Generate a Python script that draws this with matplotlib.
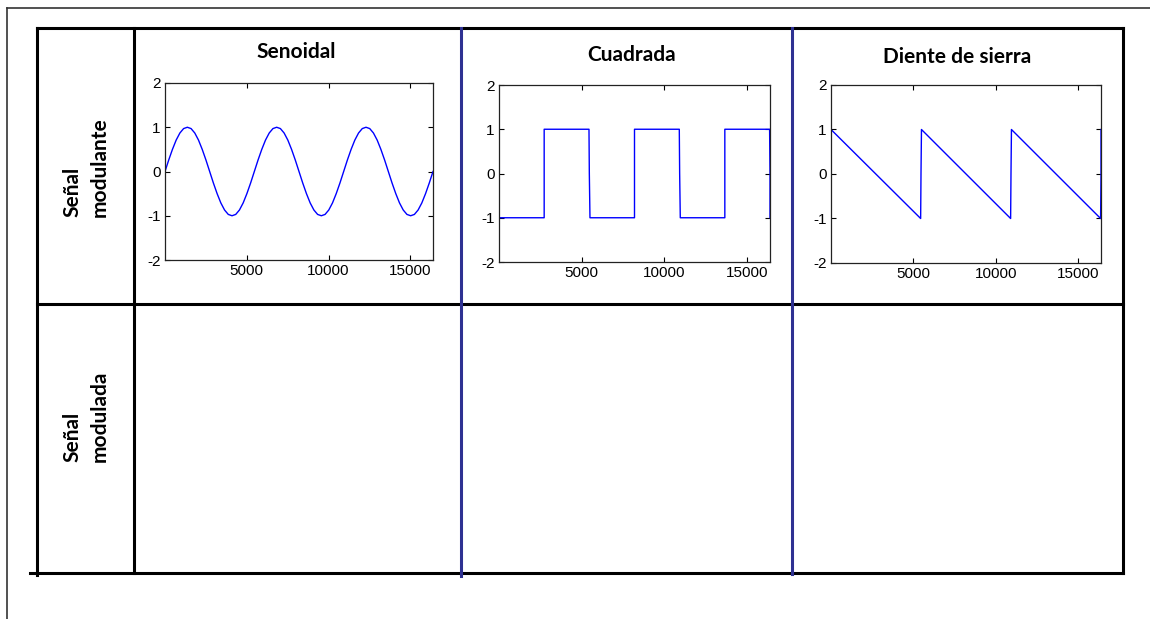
import numpy as np
import matplotlib.pyplot as plt

plt.rcParams['axes.unicode_minus'] = False

# datos de las señales (3 ciclos en 16384 muestras)
n_muestras = 16384
titulos = ["Senoidal", "Cuadrada", "Diente de sierra"]
filas = ["Señal\nmodulante", "Señal\nmodulada"]

# un ciclo de la senoidal, leido cada 15 grados
ciclo_seno = [0, 0.26, 0.5, 0.71, 0.87, 0.97, 1, 0.97, 0.87, 0.71, 0.5, 0.26,
              0, -0.26, -0.5, -0.71, -0.87, -0.97, -1, -0.97, -0.87, -0.71, -0.5, -0.26]
n_ciclos = 3

cuad_x = [0, 2731, 2731, 5440, 5461, 5500, 8192, 8192, 10900, 10922, 10960,
          13653, 13653, 16360, 16384, 16384]
cuad_y = [-1, -1, 1, 1, 0, -1, -1, 1, 1, 0, -1, -1, 1, 1, 0, -1]

sierra_x = [0, 5440, 5461, 5490, 10900, 10922, 10950, 16360, 16384, 16384]
sierra_y = [1, -1, 0, 1, -1, 0, 1, -1, 0, 1]

xticks = [5000, 10000, 15000]
yticks = [-2, -1, 0, 1, 2]

W, H = 1150, 619
fig = plt.figure(figsize=(W / 100, H / 100), dpi=100)

# capa de fondo en pixeles para la tabla
bg = fig.add_axes([0, 0, 1, 1])
bg.set_xlim(0, W)
bg.set_ylim(H, 0)
bg.axis('off')

lw = 2.2
negro = 'black'
azul_sep = '#2e3192'

# marco exterior fino
bg.plot([7, 7], [8, H], color='#333333', lw=1.2)
bg.plot([7, W], [8, 8], color='#333333', lw=1.2)

# tabla
bg.plot([37, 1123], [28, 28], color=negro, lw=lw, solid_capstyle='projecting')
bg.plot([37, 1123], [304, 304], color=negro, lw=lw)
bg.plot([30, 1123], [573, 573], color=negro, lw=lw, solid_capstyle='projecting')
bg.plot([37, 37], [28, 575], color=negro, lw=lw, solid_capstyle='projecting')
bg.plot([134, 134], [28, 573], color=negro, lw=lw)
bg.plot([1123, 1123], [28, 573], color=negro, lw=lw, solid_capstyle='projecting')
bg.plot([461, 461], [28, 576], color=azul_sep, lw=lw)
bg.plot([792, 792], [28, 574], color=azul_sep, lw=lw)

fuente_tit = 'Lato'
tit_pos = [(296, 52), (632, 55), (957, 57)]
for t, (x, y) in zip(titulos, tit_pos):
    bg.text(x, y, t, ha='center', va='center', fontsize=15, fontweight='bold',
            family=fuente_tit)

fila_pos = [(86, 167), (86, 416)]
for t, (x, y) in zip(filas, fila_pos):
    bg.text(x, y, t, ha='center', va='center', rotation=90, fontsize=15,
            fontweight='bold', family=fuente_tit, multialignment='left',
            linespacing=1.45)

# graficos pequeños (pixeles: izq, der, arriba, abajo)
cajas = [(165, 433, 83, 260), (499, 770, 85, 262), (831, 1101, 85, 263)]

x_seno = np.linspace(0, n_muestras, len(ciclo_seno) * n_ciclos + 1)
y_seno = list(np.tile(ciclo_seno, n_ciclos)) + [0]
series = [(x_seno, y_seno), (cuad_x, cuad_y), (sierra_x, sierra_y)]

for (l, r, t, b), (xs, ys) in zip(cajas, series):
    ax = fig.add_axes([l / W, 1 - b / H, (r - l) / W, (b - t) / H])
    ax.plot(xs, ys, color='blue', lw=1.0)
    ax.set_xlim(0, n_muestras)
    ax.set_ylim(-2, 2)
    ax.set_xticks(xticks)
    ax.set_yticks(yticks)
    ax.set_yticklabels([str(v) for v in yticks])
    ax.tick_params(direction='in', top=True, right=True, length=3.5, width=0.8,
                   labelsize=11, pad=3)
    for lab in ax.get_xticklabels() + ax.get_yticklabels():
        lab.set_family('Liberation Sans')
    for s in ax.spines.values():
        s.set_linewidth(0.9)
        s.set_color('#222222')

fig.savefig('out.png', dpi=100)
